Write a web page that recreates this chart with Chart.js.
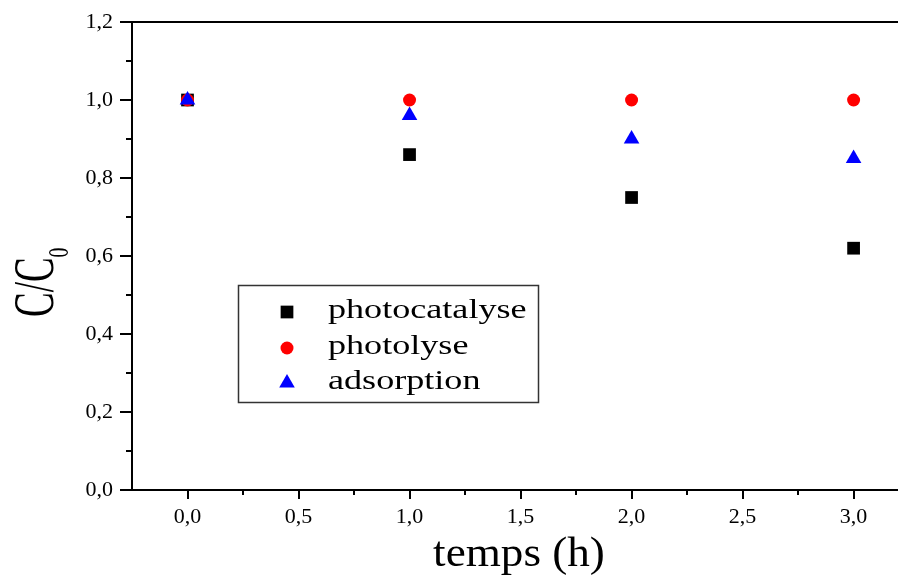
<!DOCTYPE html>
<html>
<head>
<meta charset="utf-8">
<script src="https://cdn.jsdelivr.net/npm/chart.js@4"></script>
<style>
  html, body { margin: 0; padding: 0; background: #fff; }
  #wrap { width: 898px; height: 576px; position: relative; }
</style>
</head>
<body>
<div id="wrap"><canvas id="c"></canvas></div>
<script>
// ---- data ----
const TIME = [0, 1, 2, 3];
const PHOTOCATALYSE = [1.00, 0.86, 0.75, 0.62];
const PHOTOLYSE = [1.00, 1.00, 1.00, 1.00];
const ADSORPTION = [1.00, 0.96, 0.90, 0.85];
const SERIES_LABELS = ['photocatalyse', 'photolyse', 'adsorption'];
const X_TICKS = [0, 0.5, 1, 1.5, 2, 2.5, 3];
const X_MINOR = [0.25, 0.75, 1.25, 1.75, 2.25, 2.75];
const Y_TICKS = [0, 0.2, 0.4, 0.6, 0.8, 1.0, 1.2];
const Y_MINOR = [0.1, 0.3, 0.5, 0.7, 0.9, 1.1];
const X_TITLE = 'temps (h)';
const Y_TITLE_MAIN = 'C/C';
const Y_TITLE_SUB = '0';

const SERIF = "'Liberation Serif', 'Times New Roman', serif";
const fmt = v => Number(v).toFixed(1).replace('.', ',');
const toPts = ys => TIME.map((t, i) => ({ x: t, y: ys[i] }));

const styles = [
  { color: '#000000', pointStyle: 'rect', radius: 9, order: 3 },
  { color: '#ff0000', pointStyle: 'circle', radius: 6.5, order: 2 },
  { color: '#0000ff', pointStyle: 'triangle', radius: 9, order: 1 }
];
const seriesValues = [PHOTOCATALYSE, PHOTOLYSE, ADSORPTION];

const datasets = SERIES_LABELS.map((lab, i) => ({
  label: lab,
  data: toPts(seriesValues[i]),
  showLine: false,
  pointStyle: styles[i].pointStyle,
  pointRadius: styles[i].radius,
  pointHoverRadius: styles[i].radius,
  pointBackgroundColor: styles[i].color,
  pointBorderColor: styles[i].color,
  pointBorderWidth: 0,
  order: styles[i].order
}));

const decorPlugin = {
  id: 'decor',
  beforeDraw(chart) {
    const ctx = chart.ctx;
    ctx.save();
    ctx.fillStyle = '#fff';
    ctx.fillRect(0, 0, chart.width, chart.height);
    ctx.restore();
  },
  afterDraw(chart) {
    const ctx = chart.ctx;
    const xs = chart.scales.x, ys = chart.scales.y;
    const a = chart.chartArea;
    ctx.save();
    ctx.strokeStyle = '#000';
    ctx.lineWidth = 2;
    // top frame line
    ctx.beginPath();
    ctx.moveTo(a.left - 1, a.top);
    ctx.lineTo(a.right, a.top);
    ctx.stroke();
    // y ticks
    ctx.beginPath();
    Y_TICKS.forEach(v => { const p = Math.round(ys.getPixelForValue(v)); ctx.moveTo(a.left, p); ctx.lineTo(a.left - 12, p); });
    Y_MINOR.forEach(v => { const p = Math.round(ys.getPixelForValue(v)); ctx.moveTo(a.left, p); ctx.lineTo(a.left - 6, p); });
    // x ticks
    X_TICKS.forEach(v => { const p = Math.round(xs.getPixelForValue(v)); ctx.moveTo(p, a.bottom); ctx.lineTo(p, a.bottom + 9); });
    X_MINOR.forEach(v => { const p = Math.round(xs.getPixelForValue(v)); ctx.moveTo(p, a.bottom); ctx.lineTo(p, a.bottom + 5); });
    ctx.stroke();

    // x title
    ctx.fillStyle = '#000';
    ctx.font = '43px ' + SERIF;
    ctx.textBaseline = 'alphabetic';
    ctx.textAlign = 'left';
    const sxT = 1.05;
    const wT = ctx.measureText(X_TITLE).width * sxT;
    ctx.save();
    ctx.translate(519 - wT / 2, 566);
    ctx.scale(sxT, 1);
    ctx.fillText(X_TITLE, 0, 0);
    ctx.restore();

    // y title with subscript
    ctx.save();
    ctx.translate(53, 317);
    ctx.rotate(-Math.PI / 2);
    ctx.scale(0.66, 1);
    ctx.font = '56px ' + SERIF;
    ctx.fillText(Y_TITLE_MAIN, 0, 0);
    const wm = ctx.measureText(Y_TITLE_MAIN).width;
    ctx.font = '30px ' + SERIF;
    ctx.fillText(Y_TITLE_SUB, wm, 15);
    ctx.restore();

    // legend box
    ctx.save();
    ctx.lineWidth = 1.5;
    ctx.strokeStyle = '#333';
    ctx.strokeRect(238.5, 285.5, 300, 117);
    const rowsY = [312, 348, 383];
    chart.data.datasets.forEach((ds, i) => {
      ctx.fillStyle = ds.pointBackgroundColor;
      ctx.strokeStyle = ds.pointBorderColor;
      Chart.helpers.drawPoint(ctx, { pointStyle: ds.pointStyle, radius: ds.pointRadius, borderWidth: 0, rotation: 0 }, 287, rowsY[i]);
      ctx.fillStyle = '#000';
      ctx.font = '28px ' + SERIF;
      ctx.textBaseline = 'alphabetic';
      ctx.save();
      ctx.translate(328, rowsY[i] + 6);
      ctx.scale(1.29, 1);
      ctx.fillText(ds.label, 0, 0);
      ctx.restore();
    });
    ctx.restore();
    ctx.restore();
  }
};

new Chart(document.getElementById('c'), {
  type: 'scatter',
  data: { datasets },
  options: {
    responsive: true,
    maintainAspectRatio: false,
    animation: false,
    layout: { autoPadding: false, padding: { top: 22, right: 0, left: 0, bottom: 0 } },
    plugins: { legend: { display: false }, tooltip: { enabled: false } },
    scales: {
      x: {
        type: 'linear',
        min: -0.25, max: 3.2,
        afterFit: s => { s.height = 86; s.paddingLeft = 0; s.paddingRight = 0; },
        afterBuildTicks: s => { s.ticks = X_TICKS.map(v => ({ value: v })); },
        grid: { display: false },
        border: { display: true, color: '#000', width: 2 },
        ticks: {
          color: '#000', padding: 6,
          font: { family: SERIF, size: 22 },
          callback: v => fmt(v),
          maxRotation: 0, autoSkip: false
        }
      },
      y: {
        type: 'linear',
        min: 0, max: 1.2,
        afterFit: s => { s.width = 132; s.paddingTop = 0; s.paddingBottom = 0; },
        afterBuildTicks: s => { s.ticks = Y_TICKS.map(v => ({ value: v })); },
        grid: { display: false },
        border: { display: true, color: '#000', width: 2 },
        ticks: {
          color: '#000', padding: 11,
          font: { family: SERIF, size: 22 },
          callback: v => fmt(v),
          autoSkip: false
        }
      }
    }
  },
  plugins: [decorPlugin]
});
</script>
</body>
</html>
